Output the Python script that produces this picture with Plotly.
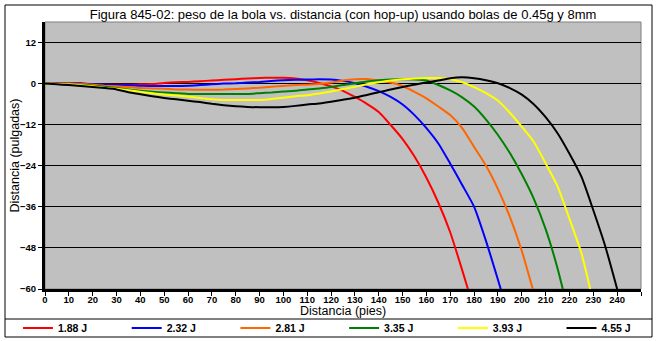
import plotly.graph_objects as go

# Distance downrange (ft), sampled every 5 ft
distancia = list(range(0, 245, 5))

# Vertical position relative to the bore line (in) for each muzzle energy
serie_188 = [0, 0.1, 0.2, 0.1, -0.2, -0.3, -0.3, -0.3, -0.2, -0.1, 0.2, 0.4, 0.5, 0.7, 0.9, 1.1,
             1.3, 1.5, 1.65, 1.7, 1.7, 1.5, 1.0, 0.2, -0.8, -2.1, -3.9, -5.9, -8.3, -12.1, -16.2,
             -21.3, -27.5, -34.8, -43.5, -54.5, -66]
serie_232 = [0, 0.1, 0.1, 0, -0.2, -0.3, -0.4, -0.5, -0.6, -0.7, -0.7, -0.7, -0.6, -0.4, -0.2, 0,
             0.1, 0.3, 0.5, 0.8, 1.0, 1.1, 1.2, 1.25, 1.2, 0.8, 0.1, -0.9, -2.2, -3.9, -6.1, -9.2,
             -13.0, -17.5, -23.4, -29.6, -36.0, -46.0, -57.3, -69]
serie_281 = [0, 0, 0, -0.1, -0.3, -0.6, -0.8, -1.0, -1.3, -1.4, -1.5, -1.7, -1.75, -1.8, -1.8, -1.75,
             -1.6, -1.4, -1.2, -0.9, -0.7, -0.4, -0.3, -0.1, 0.3, 0.9, 1.3, 1.35, 0.9, 0.3, -0.7,
             -2.4, -4.3, -6.7, -9.2, -13.0, -18.5, -24.0, -30.8, -38.9, -48.9, -61]
serie_335 = [0, -0.1, -0.2, -0.3, -0.6, -0.9, -1.3, -1.7, -2.1, -2.4, -2.6, -2.8, -3.0, -3.0, -3.0,
             -3.0, -3.0, -3.0, -2.8, -2.6, -2.3, -2.1, -1.7, -1.4, -1.0, -0.4, 0.1, 0.6, 0.95, 1.2,
             1.25, 1.2, 0.9, -0.4, -2.0, -4.0, -6.7, -10.5, -15.0, -20.3, -26.5, -33.6, -42.5, -54,
             -68]
serie_393 = [0, -0.1, -0.2, -0.5, -0.8, -1.2, -1.5, -1.9, -2.4, -2.8, -3.2, -3.5, -3.8, -4.2, -4.6,
             -4.8, -4.8, -4.8, -4.8, -4.5, -4.1, -3.7, -3.4, -2.9, -2.3, -1.6, -0.9, -0.2, 0.4, 0.9,
             1.25, 1.5, 1.65, 1.65, 1.3, 0.4, -1.0, -2.8, -5.0, -8.5, -12.6, -17.0, -23.3, -30.0,
             -39.5, -49.5, -64]
serie_455 = [0, -0.2, -0.4, -0.7, -1.0, -1.3, -1.7, -2.5, -3.1, -3.7, -4.2, -4.6, -5.0, -5.4, -5.9,
             -6.3, -6.6, -6.8, -6.9, -6.9, -6.8, -6.5, -6.1, -5.8, -5.3, -4.7, -4.1, -3.3, -2.5,
             -1.7, -1.0, -0.3, 0.3, 0.9, 1.6, 1.85, 1.6, 1.0, 0.1, -1.3, -3.2, -6.0, -9.8, -14.5,
             -20.5, -27.2, -37.0, -47.5, -60]

nombres = ["1.88 J", "2.32 J", "2.81 J", "3.35 J", "3.93 J", "4.55 J"]
series = [serie_188, serie_232, serie_281, serie_335, serie_393, serie_455]
colores = ["#FF0000", "#0000FF", "#FF6600", "#008000", "#FFFF00", "#000000"]

ticks_x = list(range(0, 260, 10))
etiquetas_x = [str(v) if v <= 240 else "" for v in ticks_x]
ticks_y = [-60, -48, -36, -24, -12, 0, 12]

W, H = 657, 341
L, R, T, B = 45, 16, 22, 52
pw, ph = W - L - R, H - T - B


def px_x(p):
    return (p - L) / pw


def px_y(p):
    return (H - B - p) / ph


etiqueta = dict(family="Liberation Sans", size=9.5, color="black", weight="bold")
leyenda_fuente = dict(family="Liberation Sans", size=10.5, color="black", weight="bold")
titulo = dict(family="Liberation Sans", size=12.5, color="black")

# one legend per series so the entries sit in evenly spaced slots along the bottom strip
leyendas = {}
fig = go.Figure()
for i, (nombre, valores, color) in enumerate(zip(nombres, series, colores)):
    clave = "legend" if i == 0 else f"legend{i + 1}"
    fig.add_trace(go.Scatter(
        x=distancia[:len(valores)], y=valores, name=nombre, mode="lines", legend=clave,
        line=dict(color=color, width=2, shape="spline", smoothing=0.6),
    ))
    leyendas[clave] = dict(
        xref="container", yref="container", x=(18 + i * 108.7) / W, xanchor="left",
        y=1 - 328 / H, yanchor="middle", font=leyenda_fuente, bgcolor="rgba(0,0,0,0)",
        borderwidth=0, itemwidth=30,
    )

fig.update_layout(
    width=W, height=H,
    margin=dict(l=L, r=R, t=T, b=B, autoexpand=False),
    paper_bgcolor="white", plot_bgcolor="#C0C0C0",
    title=dict(text="Figura 845-02: peso de la bola vs. distancia (con hop-up) usando bolas de 0.45g y 8mm",
               xref="paper", x=0.5, xanchor="center", y=1 - 14 / H, yanchor="middle", yref="container",
               font=dict(family="Liberation Sans", size=13, color="black")),
    xaxis=dict(range=[0, 250], tickvals=ticks_x, ticktext=etiquetas_x, showgrid=False,
               zeroline=False, showline=True, linecolor="black", linewidth=3,
               ticks="outside", ticklen=4, tickwidth=1, tickcolor="black", tickfont=etiqueta,
               ticklabelstandoff=-4),
    yaxis=dict(range=[-60, 18], tickvals=ticks_y, showgrid=True, gridcolor="black", gridwidth=1,
               zeroline=False, showline=True, linecolor="black", linewidth=3,
               ticks="outside", ticklen=4, tickwidth=1, tickcolor="black", tickfont=etiqueta),
    showlegend=True,
    annotations=[
        dict(text="Distancia (pulgadas)", textangle=-90, x=px_x(14), y=0.5, xref="paper",
             yref="paper", showarrow=False, font=titulo, xanchor="center", yanchor="middle"),
        dict(text="Distancia (pies)", x=0.5, y=px_y(311), xref="paper", yref="paper",
             showarrow=False, font=titulo, xanchor="center", yanchor="middle"),
    ],
    shapes=[
        dict(type="rect", xref="paper", yref="paper", x0=0, x1=1, y0=0, y1=1,
             line=dict(color="#808080", width=1), layer="below"),
        dict(type="rect", xref="paper", yref="paper", x0=px_x(5), x1=px_x(652),
             y0=px_y(337), y1=px_y(5), line=dict(color="black", width=1)),
        dict(type="line", xref="paper", yref="paper", x0=px_x(5), x1=px_x(652),
             y0=px_y(319), y1=px_y(319), line=dict(color="black", width=1)),
    ],
    **leyendas,
)

fig.write_html("out.html")
